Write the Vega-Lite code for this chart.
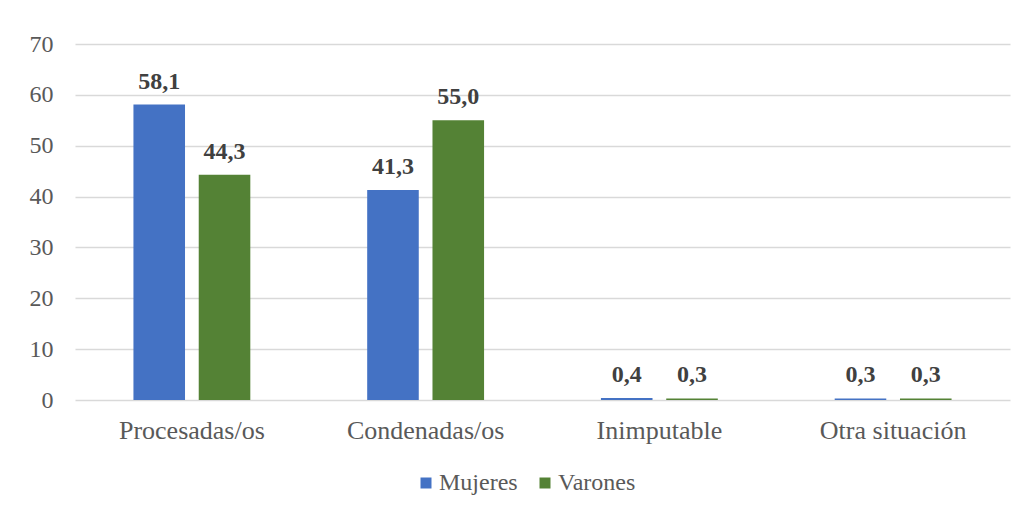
{
  "$schema": "https://vega.github.io/schema/vega-lite/v6.json",
  "width": 935,
  "height": 356,
  "autosize": {"type": "none"},
  "padding": {"left": 75, "top": 44, "right": 15, "bottom": 111},
  "background": "white",
  "config": {
    "font": "Liberation Serif",
    "view": {"stroke": null},
    "axis": {"labelFont": "Liberation Serif", "labelColor": "#595959", "domain": false, "ticks": false, "title": null},
    "legend": {"labelFont": "Liberation Serif", "labelColor": "#595959", "labelFontSize": 24}
  },
  "data": {
    "values": [
      {"categoria": "Procesadas/os", "sexo": "Mujeres", "valor": 58.1, "etiqueta": "58,1"},
      {"categoria": "Procesadas/os", "sexo": "Varones", "valor": 44.3, "etiqueta": "44,3"},
      {"categoria": "Condenadas/os", "sexo": "Mujeres", "valor": 41.3, "etiqueta": "41,3"},
      {"categoria": "Condenadas/os", "sexo": "Varones", "valor": 55.0, "etiqueta": "55,0"},
      {"categoria": "Inimputable", "sexo": "Mujeres", "valor": 0.4, "etiqueta": "0,4"},
      {"categoria": "Inimputable", "sexo": "Varones", "valor": 0.3, "etiqueta": "0,3"},
      {"categoria": "Otra situación", "sexo": "Mujeres", "valor": 0.3, "etiqueta": "0,3"},
      {"categoria": "Otra situación", "sexo": "Varones", "valor": 0.3, "etiqueta": "0,3"}
    ]
  },
  "encoding": {
    "x": {
      "field": "categoria", "type": "nominal", "sort": null,
      "scale": {"paddingInner": 0.5, "paddingOuter": 0.25},
      "axis": {"labelAngle": 0, "labelPadding": 17, "labelFontSize": 26, "grid": false}
    },
    "xOffset": {"field": "sexo", "type": "nominal", "scale": {"paddingInner": 0.21, "paddingOuter": 0}},
    "y": {
      "field": "valor", "type": "quantitative",
      "scale": {"domain": [0, 70]},
      "axis": {"values": [0, 10, 20, 30, 40, 50, 60, 70], "grid": true, "gridColor": "#d9d9d9", "gridWidth": 1.5, "labelPadding": 22, "labelFontSize": 24}
    }
  },
  "layer": [
    {
      "mark": {"type": "bar"},
      "encoding": {
        "color": {
          "field": "sexo", "type": "nominal",
          "scale": {"domain": ["Mujeres", "Varones"], "range": ["#4472c4", "#548235"]},
          "legend": {"title": null, "orient": "none", "legendX": 339, "legendY": 427, "direction": "horizontal", "symbolType": "square", "symbolSize": 121, "symbolStrokeWidth": 0, "columnPadding": 15, "labelOffset": 1, "padding": 0}
        }
      }
    },
    {
      "mark": {"type": "text", "baseline": "alphabetic", "dy": -16, "fontWeight": "bold", "fontSize": 24, "color": "#404040", "font": "Liberation Serif"},
      "encoding": {"text": {"field": "etiqueta"}}
    }
  ]
}
